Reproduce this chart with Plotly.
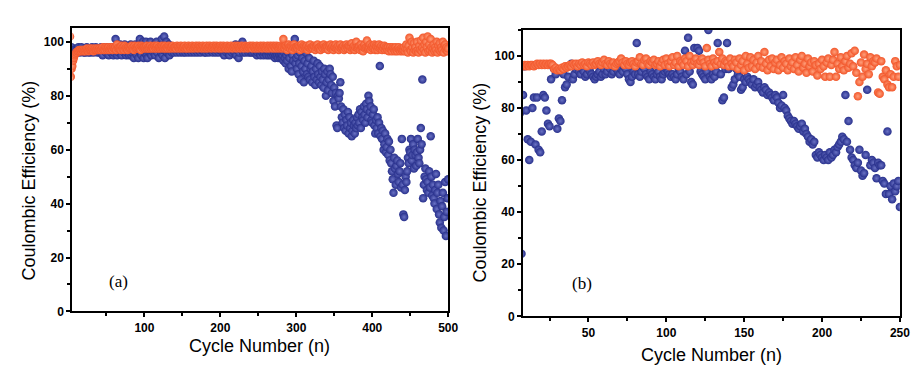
import plotly.graph_objects as go

# ---------------- data ----------------
# Panel (a): coulombic efficiency per cycle (cycle = index + 1)
blue_a = [
    93, 96, 98, 98, 97, 96, 97, 97, 96, 97, 96, 97, 98, 97, 96, 97, 98, 97, 97, 96,
    97, 96, 97, 98, 97, 96, 97, 97, 96, 97, 98, 97, 96, 97, 97, 98, 97, 96, 97, 97,
    96, 97, 98, 96, 95, 97, 98, 97, 96, 98, 97, 96, 95, 97, 98, 96, 97, 98, 95, 96,
    97, 101, 98, 95, 97, 96, 98, 99, 96, 95, 97, 98, 96, 99, 97, 95, 96, 98, 97, 95,
    98, 99, 95, 96, 97, 94, 98, 99, 96, 95, 97, 94, 98, 101, 96, 95, 97, 100, 94, 96,
    97, 100, 95, 94, 98, 99, 96, 100, 95, 97, 98, 96, 99, 95, 97, 100, 96, 98, 94, 97,
    99, 96, 101, 95, 97, 102, 94, 98, 100, 96, 97, 99, 95, 98, 97, 96, 98, 97, 96, 97,
    98, 97, 96, 97, 98, 97, 96, 98, 97, 97, 96, 98, 97, 96, 97, 98, 97, 96, 97, 98,
    97, 96, 97, 98, 97, 96, 97, 97, 98, 96, 97, 98, 97, 96, 97, 97, 98, 97, 96, 97,
    96, 97, 98, 97, 96, 97, 98, 97, 97, 96, 97, 98, 97, 96, 97, 98, 97, 96, 97, 97,
    98, 97, 96, 97, 95, 98, 97, 96, 97, 98, 96, 95, 97, 98, 96, 97, 98, 97, 96, 99,
    95, 97, 98, 94, 96, 98, 99, 97, 100, 96, 98, 97, 96, 98, 97, 97, 96, 98, 97, 96,
    97, 96, 98, 97, 96, 97, 98, 95, 96, 97, 98, 96, 95, 97, 96, 98, 95, 96, 97, 96,
    95, 97, 96, 95, 96, 97, 95, 96, 97, 95, 96, 94, 95, 96, 95, 94, 96, 95, 94, 95,
    94, 95, 93, 96, 94, 92, 95, 93, 96, 90, 94, 97, 91, 89, 95, 93, 97, 101, 92, 94,
    90, 95, 88, 92, 96, 86, 91, 94, 89, 85, 93, 90, 96, 88, 92, 87, 94, 86, 90, 91,
    85, 89, 93, 87, 84, 90, 86, 92, 88, 85, 91, 87, 84, 89, 86, 83, 90, 88, 80, 85,
    89, 82, 86, 90, 88, 84, 81, 87, 78, 83, 76, 81, 69, 68, 80, 79, 81, 85, 76, 72,
    70, 75, 68, 73, 67, 71, 69, 74, 66, 72, 68, 70, 65, 67, 71, 69, 66, 70, 68, 72,
    69, 73, 70, 75, 68, 74, 72, 71, 76, 73, 70, 77, 75, 72, 80, 78, 74, 76, 71, 70,
    73, 75, 69, 66, 71, 68, 72, 66, 70, 91, 65, 68, 64, 67, 60, 62, 66, 59, 61, 64,
    58, 63, 56, 60, 55, 52, 49, 44, 57, 53, 47, 54, 56, 51, 48, 52, 55, 46, 64, 47,
    36, 35, 45, 50, 48, 52, 57, 55, 60, 59, 64, 56, 58, 62, 53, 60, 58, 54, 59, 64,
    57, 55, 60, 68, 62, 86, 42, 47, 50, 53, 49, 45, 48, 44, 52, 46, 65, 50, 43, 47,
    42, 40, 45, 51, 38, 44, 47, 36, 33, 41, 31, 39, 44, 30, 35, 48, 28, 37, 42, 49,
]
orange_a = [
    88, 102, 87, 90, 91, 93, 94, 95, 95.5, 96, 96, 96.5, 96.5, 97, 96.5, 97, 96.5, 97, 97, 96.5,
    97, 96.5, 97, 97.5, 97, 96.5, 97, 97.5, 97, 97, 97.5, 97, 96.5, 97, 97.5, 97, 97, 97.5, 97, 97,
    97.5, 97, 97, 97.5, 98, 97, 97.5, 97, 98, 97.5, 97, 97.5, 98, 97, 97.5, 98, 97.5, 97, 98, 97.5,
    97.5, 98, 97, 99, 97.5, 98, 97.5, 98, 97, 98.5, 97.5, 98, 97, 98.5, 97.5, 98, 97.5, 97, 98, 97.5,
    98, 97.5, 98.5, 97.5, 98, 97, 98.5, 97.5, 98, 97.5, 98, 98.5, 97.5, 98, 97, 98.5, 98, 97.5, 98, 98,
    97.5, 98, 98.5, 97.5, 98, 97.5, 98, 98.5, 97.5, 98, 98, 97.5, 98.5, 98, 97.5, 98, 98.5, 97.5, 98, 98,
    97.5, 98, 98.5, 98, 97.5, 98, 98.5, 97.5, 98, 98, 97.5, 98.5, 98, 97.5, 98, 98, 98.5, 97.5, 98, 98,
    98, 97.5, 98.5, 98, 98, 97.5, 98, 98.5, 98, 97.5, 98, 98, 98.5, 97.5, 98, 98, 97.5, 98.5, 98, 98,
    97.5, 98, 98.5, 98, 97.5, 98, 98, 98.5, 98, 97.5, 98, 98.5, 98, 98, 97.5, 98, 98.5, 98, 97.5, 98,
    98, 98.5, 97.5, 98, 98, 98.5, 98, 97.5, 98, 98, 98.5, 98, 97.5, 98, 98.5, 98, 98, 97.5, 98, 98.5,
    98, 97.5, 98, 98.5, 98, 98, 97.5, 98, 98.5, 98, 97.5, 98, 98, 98.5, 98, 97.5, 98, 98, 98.5, 98,
    97.5, 98, 98.5, 98, 98, 97.5, 98, 98.5, 98, 98, 97.5, 98, 98.5, 98, 98, 97.5, 98, 98, 98.5, 98,
    98, 97.5, 98.5, 98, 98, 97.5, 98, 98.5, 98, 97.5, 98, 98, 98.5, 98, 97.5, 98, 98.5, 98, 98, 97.5,
    98, 98.5, 98, 97.5, 98, 98.5, 98, 98, 97.5, 98.5, 98, 98, 97.5, 98.5, 98, 98, 97.5, 98, 98.5, 98,
    97.5, 98, 101, 98, 97.5, 98.5, 98, 97, 98, 99, 98, 97.5, 98.5, 98, 97, 98, 99, 98, 97.5, 98,
    98, 97.5, 98.5, 98, 97, 98, 99, 98, 97.5, 98.5, 98, 97.5, 98, 98.5, 97, 98, 98, 99, 97.5, 98,
    98, 97.5, 98.5, 98, 97, 98, 98.5, 99, 97.5, 98, 98, 97, 98.5, 98, 97.5, 99, 98, 97.5, 98, 98.5,
    98, 97, 98.5, 98, 99, 97.5, 98, 98.5, 97, 98, 98, 99, 97.5, 98, 98.5, 97, 98, 99, 97.5, 98,
    98, 98.5, 97, 98, 97.5, 99, 98, 97.5, 98.5, 98, 97, 98, 99.5, 97.5, 98, 98.5, 97, 98, 100, 98,
    97.5, 98, 98.5, 97, 99, 97.5, 98, 96.5, 98, 99, 97.5, 98, 100.5, 98, 97.5, 98, 99, 97, 98, 98.5,
    97.5, 98, 99, 97, 98.5, 98, 97, 98, 99, 97.5, 98, 98.5, 97, 98, 97.5, 98.5, 97, 98, 97.5, 97,
    98, 96.5, 97.5, 98, 97, 96.5, 98, 97.5, 97, 96.5, 98, 97, 96.5, 97.5, 98, 97, 96.5, 97.5, 97, 96.5,
    97, 98, 96.5, 97.5, 99, 97, 96, 98.5, 101.5, 97, 96.5, 100, 98, 96, 99.5, 97, 98, 96.5, 100, 97,
    96, 98.5, 97, 100.5, 96.5, 98, 101.5, 97, 99, 96, 100, 98, 102, 96.5, 99, 97, 101, 98, 96, 97.5,
    99, 96.5, 98, 97, 100, 96, 98.5, 97, 99.5, 96.5, 98, 97, 100, 96, 98.5, 99, 97, 98, 96.5, 97.5,
]

# Panel (b)
blue_b = [
    20, 35, 50, 62, 70, 78, 24, 85, 96, 79, 68, 60, 67, 80, 84, 66, 84, 64, 63, 71,
    85, 84, 79, 74, 73, 91, 96, 95, 93, 72, 76, 75, 83, 93, 88, 89, 92, 96, 97, 91,
    93, 95, 96, 94, 93, 95, 94, 92, 93, 95, 94, 93, 92, 91, 92, 93, 94, 92, 93, 95,
    93, 94, 96, 95, 93, 94, 96, 95, 94, 93, 95, 94, 96, 95, 93, 91, 90, 92, 94, 93,
    105, 93, 92, 94, 96, 95, 93, 92, 91, 94, 93, 92, 91, 93, 94, 92, 91, 93, 94, 95,
    94, 93, 92, 93, 92, 91, 93, 95, 94, 92, 91, 102, 93, 107, 94, 90, 89, 103, 98, 103,
    102, 94, 93, 92, 91, 94, 110, 92, 91, 93, 92, 94, 105, 97, 93, 83, 84, 95, 105, 95,
    96, 88, 89, 91, 95, 93, 92, 87, 88, 91, 90, 92, 91, 90, 89, 91, 88, 89, 90, 88,
    87, 86, 88, 87, 85, 86, 85, 84, 83, 85, 84, 82, 80, 81, 85, 80, 79, 77, 76, 75,
    74, 75, 74, 73, 72, 73, 74, 71, 72, 70, 69, 67, 68, 66, 67, 62, 61, 63, 62, 61,
    60, 62, 61, 60, 63, 61, 62, 64, 63, 65, 66, 67, 69, 68, 85, 67, 75, 64, 61, 60,
    58, 57, 59, 64, 56, 54, 55, 62, 87, 97, 58, 60, 59, 57, 53, 59, 58, 58, 52, 51,
    47, 71, 47, 50, 45, 51, 48, 50, 52, 42,
]
orange_b = [
    94, 95, 95, 95.5, 96, 96, 96, 96, 96.5, 96, 96.5, 96, 96.5, 96.5, 96, 96.5, 97, 96.5, 97, 96.5,
    97, 96.5, 97, 96.5, 97, 97, 96.5, 95, 95.5, 94.5, 95, 94.5, 95.5, 95, 96, 95.5, 96, 96.5, 96, 97,
    96.5, 97, 96, 97, 96.5, 97.5, 96.5, 97, 96, 97.5, 97, 96.5, 97.5, 96.5, 97, 98, 97, 96.5, 97.5, 98.5,
    97, 96.5, 98, 97, 96.5, 97.5, 96, 97, 97.5, 98, 99, 97.5, 96.5, 98, 97, 96.5, 97.5, 98, 97, 96,
    97.5, 98, 99.5, 97, 96.5, 98.5, 99, 97, 96.5, 98, 97.5, 98.5, 96.5, 97, 98, 96, 97.5, 98.5, 96.5, 99,
    97, 96, 98, 99.5, 96.5, 97.5, 100, 96, 98, 97.5, 96.5, 99, 98, 96, 100, 97.5, 96.5, 98, 99, 97,
    96.5, 98, 99, 97.5, 96, 103, 98.5, 97, 96, 99, 97.5, 96.5, 98, 101.5, 97, 99, 96.5, 98, 97.5, 96,
    99, 97, 96, 98.5, 97.5, 95, 99, 96.5, 98, 94.5, 100, 97, 95.5, 99.5, 96, 98.5, 95, 97.5, 100, 96,
    98, 95.5, 101.5, 97, 94.5, 98.5, 96, 99, 95, 97.5, 98.5, 94.5, 96.5, 99.5, 95.5, 98, 97, 94.5, 99, 96,
    97.5, 95, 99.5, 96.5, 94, 98.5, 100, 95.5, 97, 93.5, 99, 96, 97.5, 94, 98, 96.5, 92.5, 97, 95, 98.5,
    96, 92, 97.5, 99, 92, 96.5, 98.5, 101.5, 92, 97, 95, 99.5, 96, 94.5, 98, 100, 95.5, 97, 101, 96,
    102, 93.5, 84.5, 90, 97.5, 92, 100.5, 95, 97, 93, 99.5, 96, 98, 97.5, 99, 86, 85.5, 98, 92, 91,
    94.5, 89, 88, 93, 88, 92, 98, 96, 92, 96.5,
]

cycles_blue_a = list(range(1, len(blue_a) + 1))
cycles_orange_a = list(range(1, len(orange_a) + 1))
cycles_blue_b = list(range(1, len(blue_b) + 1))
cycles_orange_b = list(range(1, len(orange_b) + 1))

x_ticks_a = [100, 200, 300, 400, 500]
x_minor_a = [50, 150, 250, 350, 450]
x_ticks_b = [50, 100, 150, 200, 250]
x_minor_b = [25, 75, 125, 175, 225]
y_ticks = [0, 20, 40, 60, 80, 100]
y_minor = [10, 30, 50, 70, 90]

# ---------------- styling ----------------
W, H = 921, 371
BLUE, BLUE_HI = "#28308c", "#6a72c4"
ORANGE, ORANGE_HI = "#f2562a", "#ffa07c"
MS = 8.5

def marker(c, hi):
    return dict(size=MS, color=c, line=dict(width=0),
                gradient=dict(type="radial", color=hi))

fig = go.Figure()
fig.add_trace(go.Scatter(x=cycles_blue_a, y=blue_a, mode="markers",
                         marker=marker(BLUE, BLUE_HI), xaxis="x", yaxis="y"))
fig.add_trace(go.Scatter(x=cycles_orange_a, y=orange_a, mode="markers",
                         marker=marker(ORANGE, ORANGE_HI), xaxis="x", yaxis="y"))
fig.add_trace(go.Scatter(x=cycles_blue_b, y=blue_b, mode="markers",
                         marker=marker(BLUE, BLUE_HI), xaxis="x2", yaxis="y2"))
fig.add_trace(go.Scatter(x=cycles_orange_b, y=orange_b, mode="markers",
                         marker=marker(ORANGE, ORANGE_HI), xaxis="x2", yaxis="y2"))

tickfont = dict(family="Liberation Sans, Arial, sans-serif", size=12, color="black", weight="bold")

def axis(rng, dom, ticks, minor, anchor):
    return dict(range=rng, domain=dom, anchor=anchor, tickmode="array", tickvals=ticks,
                ticks="outside", ticklen=4, tickwidth=1.5, tickcolor="black",
                minor=dict(tickmode="array", tickvals=minor, ticks="outside",
                           ticklen=3, tickwidth=1.5, tickcolor="black"),
                showline=True, linecolor="black", linewidth=2, mirror=True,
                showgrid=False, zeroline=False, tickfont=tickfont)

def px(x):
    return x / W

def py(y):
    return 1 - y / H

fig.update_layout(
    width=W, height=H, margin=dict(l=0, r=0, t=0, b=0),
    paper_bgcolor="white", plot_bgcolor="white", showlegend=False,
    xaxis=axis([5, 500], [px(65), px(445)], x_ticks_a, x_minor_a, "y"),
    yaxis=axis([0, 105], [py(309.3), py(20.7)], y_ticks, y_minor, "x"),
    xaxis2=axis([8, 250], [px(520.7), px(901.7)], x_ticks_b, x_minor_b, "y2"),
    yaxis2=axis([0, 110], [py(314.3), py(22.3)], y_ticks, y_minor + [110], "x2"),
)

tfont = dict(family="Liberation Sans, Arial, sans-serif", size=18, color="black")
lfont = dict(family="Liberation Serif, Times New Roman, serif", size=17, color="black")
ann = [
    ("Cycle Number (n)", 253.8, 345, 0, tfont),
    ("Coulombic Efficiency (%)", 21, 176, -90, tfont),
    ("Cycle Number (n)", 711.7, 354, 0, tfont),
    ("Coulombic Efficiency (%)", 477, 178, -90, tfont),
    ("(a)", 112, 279, 0, lfont),
    ("(b)", 580, 281, 0, lfont),
]
for text, x, y, ang, f in ann:
    fig.add_annotation(text=text, x=px(x), y=py(y), xref="paper", yref="paper",
                       xanchor="center", yanchor="middle", showarrow=False,
                       textangle=ang, font=f)

fig.write_html("out.html")
